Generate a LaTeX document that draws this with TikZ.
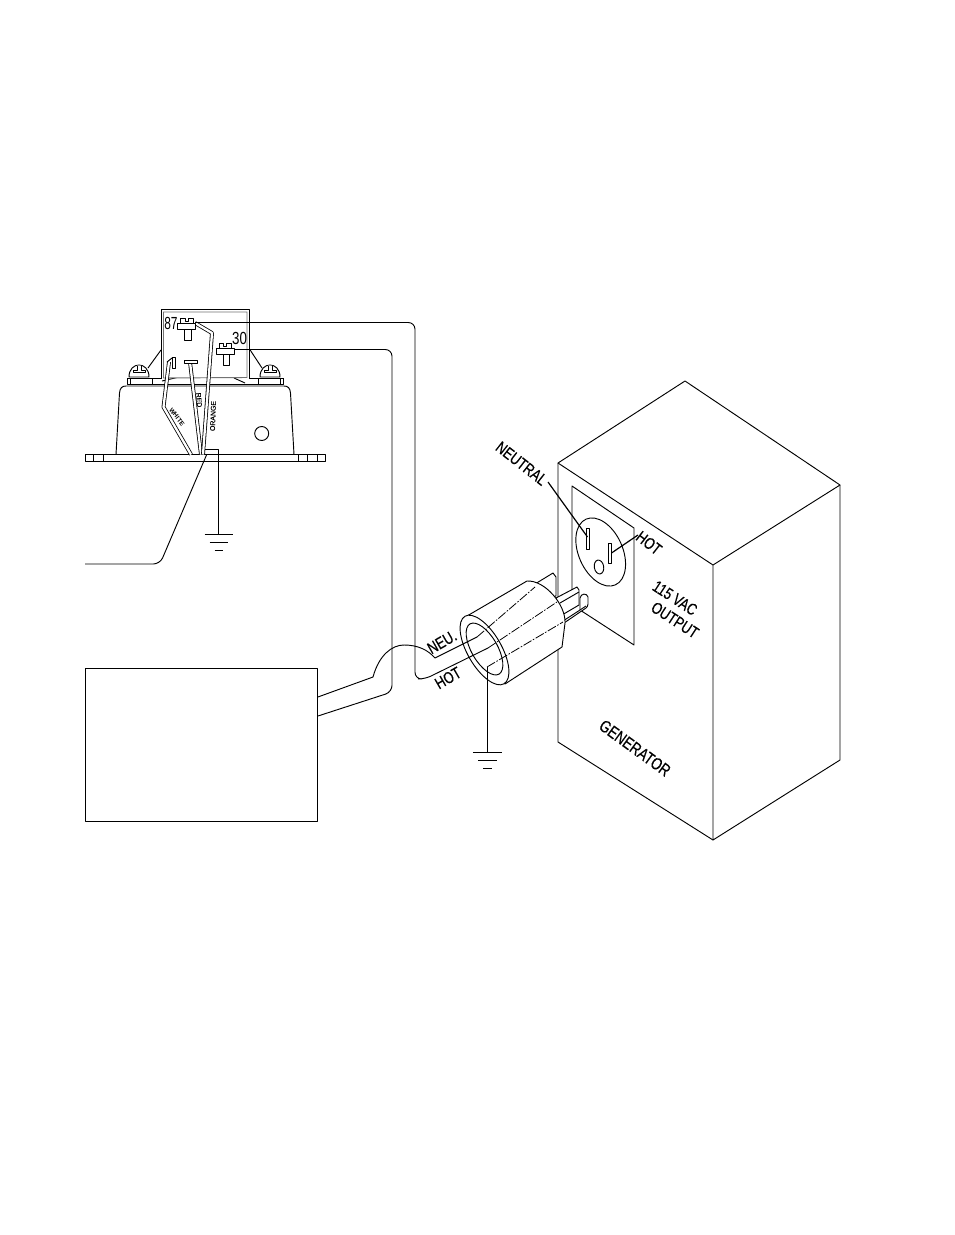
\documentclass[tikz,border=0pt]{standalone}
\usepackage{fontspec}
\usepackage{graphicx}
\setmainfont{Liberation Sans}
\newfontfamily\heavy[FakeBold=0.25]{Liberation Sans}
\newcommand{\fz}[1]{\fontsize{#1}{#1}\selectfont}
\newcommand{\tall}[1]{\scalebox{1.0}[1.28]{\heavy #1}}
\tikzset{
  ln/.style={line width=0.7pt,line join=round,black},
  wire/.style={ln,rounded corners=5pt},
  dbl/.style={draw=black,line width=0.6pt,double=white,double distance=1.7pt,line join=round},
  dsh/.style={ln,line width=0.6pt,dash pattern=on 7pt off 1.2pt on 1.2pt off 1.2pt},
  lab/.style={inner sep=0pt,font=\fz{9.6}},
  term/.style={ln,fill=white},
}
\newcommand{\gnd}[3]{% x y scale
  \draw[ln] (#1-14*#3,#2) -- (#1+14*#3,#2);
  \draw[ln] (#1-9*#3,#2+8) -- (#1+9*#3,#2+8);
  \draw[ln] (#1-4*#3,#2+16) -- (#1+4*#3,#2+16);
}
\newcommand{\screw}[1]{% centre x
  \draw[ln,fill=white] (#1-10,377) .. controls (#1-10,369) and (#1-5,365) .. (#1,365)
     .. controls (#1+5,365) and (#1+10,369) .. (#1+10,377) -- cycle;
  \draw[ln,fill=white] (#1-2,365.5) -- (#1-2,370) -- (#1-6,370) -- (#1-6,372) -- (#1+6,372) -- (#1+6,370) -- (#1+2,370) -- (#1+2,365.5);
}
\newcommand{\terminal}[2]{% flange left x, flange top y
  \draw[term] (#1+7,#2+5) rectangle (#1+13.5,#2+17);
  \draw[term] (#1+3,#2) -- (#1+3,#2-5.5) -- (#1+7.5,#2-5.5) -- (#1+7.5,#2-2.5) -- (#1+10.5,#2-2.5) -- (#1+10.5,#2-5.5) -- (#1+15.5,#2-5.5) -- (#1+15.5,#2);
  \draw[term] (#1,#2) rectangle (#1+18,#2+5.5);
}
\begin{document}
\begin{tikzpicture}[x=0.75pt,y=-0.75pt]
\useasboundingbox[fill=white] (0,0) rectangle (954,1235);

% ---------- mounting base
\draw[ln] (116,454.5) -- (119.5,393) .. controls (120,388) and (122,386) .. (126,386) -- (284,386)
   .. controls (288,386) and (290,388) .. (290.5,393) -- (294,454.5);
\draw[ln] (85,454.5) rectangle (325,461);
\foreach \x in {93,103,298,307,317} \draw[ln] (\x,454.5) -- (\x,461);
\draw[ln] (261.7,433.5) circle [radius=7];
% upper flange
\draw[ln] (127,378) -- (162,378);
\draw[ln] (249,378) -- (283,378);
\draw[ln] (127,378) -- (127,384) -- (283,384) -- (283,378);
\draw[ln] (130,378) -- (130,384) (152,378) -- (152,384) (258,378) -- (258,384) (280,378) -- (280,384);
\draw[ln] (162,381) -- (177,377.5);
\draw[ln] (234,378) -- (245,383);
\screw{139}
\screw{270}
% brackets
\draw[ln] (161,350) -- (148,368);
\draw[ln] (249.5,349) -- (262,368);

% ---------- relay
\draw[ln,fill=white] (161,378) -- (161,309.5) -- (249.5,309.5) -- (249.5,378);
\draw[line width=0.7pt,draw=black!55] (163.5,378) -- (163.5,312) -- (247,312) -- (247,377.5) -- cycle;
\coordinate (p87) at (195,322.5);
\coordinate (p30) at (234,349.5);

% ---------- grommet and wires
\draw[ln] (200,449) -- (218,449) -- (218,461);
\draw[dbl] (169,362) -- (163.5,407) -- (191,454.5);
\draw[dbl] (190,362) -- (201,454.5);
\draw[dbl] (195,323) -- (212,333) -- (203,454.5);
\terminal{177.5}{323.5}
\terminal{216}{348.5}
\draw[ln,fill=white] (172,357.5) rectangle (175.5,368.5);
\draw[ln] (167,362) -- (172,358);
\draw[ln,fill=white] (184,360.5) rectangle (197,363.5);

\node[lab,font=\fz{10.5}] (n87) at (171,323) {\scalebox{0.85}[1.25]{87}};
\node[lab,font=\fz{10.5}] (n30) at (239.5,338) {\scalebox{0.95}[1.25]{30}};
\node[lab,font=\bfseries\fz{4.8},rotate=-52] (nwhite) at (177,417) {WHITE};
\node[lab,font=\fz{5.2},rotate=-85] (nred) at (199,400) {\heavy RED};
\node[lab,font=\fz{5.2},rotate=88] (norange) at (213,416) {\heavy ORANGE};

% ---------- ground of the base
\coordinate (g1) at (218,534);
\draw[ln] (218,461) -- (g1);
\gnd{218.5}{534}{1}
\coordinate (gr) at (206.5,455);
\coordinate (wl) at (85,564);
\draw[wire] (gr) -- (160,564) -- (wl);

% ---------- controller box
\node[draw,ln,minimum width=232*0.75pt,minimum height=153*0.75pt,inner sep=0pt,anchor=north west] (box) at (85,668) {};

% ---------- generator
\draw[ln,fill=white] (558,463) -- (685,381) -- (840,485) -- (713,565) -- cycle;
\draw[ln] (713,565) -- (713,840) -- (840,760) -- (840,485);
\draw[ln] (558,463) -- (558,742) -- (713,840);
\draw[ln] (572,590) -- (572,486) -- (634,528) -- (634,645) -- (580,610);
\draw[ln,rotate around={114:(600.7,552)}] (600.7,552) ellipse [x radius=36,y radius=22];
\draw[ln,fill=white] (586,528) rectangle (589.5,549);
\draw[ln,fill=white] (608,543) rectangle (611.5,563);
\draw[ln,rotate around={100:(599,567)}] (599,567) ellipse [x radius=7,y radius=4.7];
\draw[line width=0.9pt] (548,482) -- (587.5,537);
\draw[line width=0.9pt] (638,535) -- (611.5,553);

\node[lab,rotate=-38] (nneutral) at (521.5,463.5) {\tall{NEUTRAL}};
\node[lab,rotate=-38] (nhot) at (649,543) {\tall{HOT}};
\node[lab,rotate=-33] (nvac) at (675,598) {\tall{115 VAC}};
\node[lab,rotate=-33] (noutput) at (675,620) {\tall{OUTPUT}};
\node[lab,rotate=-36,font=\fz{10}] (ngen) at (635,748) {\tall{GENERATOR}};

% ---------- prongs
\draw[ln,fill=white] (535,584) -- (553,573) -- (556,577) -- (556,596) -- (540,600) -- cycle;
\draw[ln,fill=white] (556,598) -- (577,587) -- (579,590) -- (579,605) -- (562,615) -- cycle;
\draw[ln] (560,603) -- (579,592);
\draw[ln,fill=white] (563,621) -- (580,610) -- (580,598)
   .. controls (581,593) and (587,593) .. (588,597)
   -- (588,604) .. controls (588,606) and (587,607) .. (586,608) -- (564,623) -- cycle;
\draw[ln] (580,610) -- (586,606);

% ---------- plug
\draw[ln,fill=white] (467,616) -- (527,581)
   .. controls (545,580) and (566,605) .. (565,623) -- (562,647) -- (505,684) -- cycle;
\draw[ln,fill=white,rotate around={120:(484.5,650)}] (484.5,650) ellipse [x radius=39,y radius=17];
\draw[ln,rotate around={120:(484.5,649)}] (484.5,649) ellipse [x radius=29,y radius=13];

% ---------- cable and wires
\coordinate (ca) at (box.east |- 0,697);
\coordinate (cb) at (box.east |- 0,716);
\coordinate (neuin) at (477,637);
\coordinate (hotin) at (488,648);
\draw[ln] (ca) -- (373,677) .. controls (379,655) and (392,645) .. (404,645)
   .. controls (418,645) and (428,650) .. (435,658) -- (neuin);
\draw[dsh] (neuin) -- (535,587);
\draw[wire] (p87) -- (415,322.5) -- (415,679) -- (425,679) -- (hotin);
\draw[dsh] (hotin) -- (557,602);
\draw[wire] (p30) -- (392,349.5) -- (392,692) -- (cb);
\coordinate (gp) at (487,667);
\draw[dsh] (gp) -- (563,622);
\draw[ln] (gp) -- (487,752);
\gnd{487.5}{752}{1.05}

\node[lab,rotate=30] (nneu) at (442,642) {\tall{NEU.}};
\node[lab,rotate=30] (nhot2) at (448,678) {\tall{HOT}};
\end{tikzpicture}
\end{document}
